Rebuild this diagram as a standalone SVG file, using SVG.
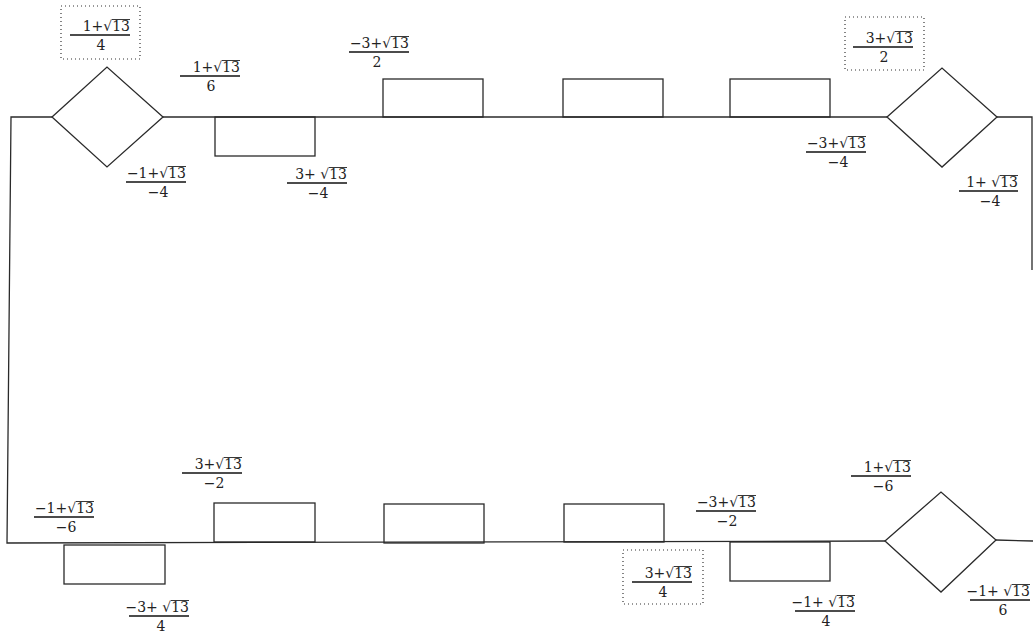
<svg xmlns="http://www.w3.org/2000/svg" width="1033" height="637" viewBox="0 0 1033 637">
<defs>
<style>
.ln{fill:none;stroke:#2a2a2a;stroke-width:1.3}
.nd{fill:none;stroke:#2a2a2a;stroke-width:1.3}
.bar{stroke:#111;stroke-width:1.6}
.ov{stroke:#222;stroke-width:0.9}
.dot{fill:none;stroke:#333;stroke-width:1.2;stroke-dasharray:1 3}
.t{font-family:"DejaVu Serif","Liberation Serif",serif;font-size:14px;fill:#222}
.num{text-anchor:end}
.den{text-anchor:middle}
</style>
</defs>
<rect width="1033" height="637" fill="#fff"/>
<g id="connectors">
<path class="ln" d="M52,117 L11,117 L7,543 L885,541"/>
<path class="ln" d="M163,117 L887,117"/>
<path class="ln" d="M997,117 L1032,117 L1032,270"/>
<path class="ln" d="M996,540 L1033,541"/>
</g>
<g id="d1"><polygon class="nd" points="52,117 107,67 163,117 107,167"/></g>
<g id="d2"><polygon class="nd" points="887,117 942,68 997,117 942,167"/></g>
<g id="d3"><polygon class="nd" points="885,541 941,492 996,540 941,592"/></g>
<g id="r1"><rect class="nd" x="215" y="117" width="100" height="39"/></g>
<g id="r2"><rect class="nd" x="383" y="79" width="100" height="38"/></g>
<g id="r3"><rect class="nd" x="563" y="79" width="100" height="38"/></g>
<g id="r4"><rect class="nd" x="730" y="79" width="100" height="38"/></g>
<g id="r5"><rect class="nd" x="64" y="545" width="101" height="39"/></g>
<g id="r6"><rect class="nd" x="214" y="503" width="101" height="39"/></g>
<g id="r7"><rect class="nd" x="384" y="504" width="100" height="39"/></g>
<g id="r8"><rect class="nd" x="564" y="504" width="100" height="38"/></g>
<g id="r9"><rect class="nd" x="730" y="542" width="100" height="39"/></g>
<g id="lab1"><rect class="dot" x="61" y="6" width="79" height="53"/>
<text class="t num" x="130" y="31">1+√13</text><line class="ov" x1="112" y1="19.5" x2="130" y2="19.5"/><line class="bar" x1="70" y1="35" x2="130" y2="35"/><text class="t den" x="101" y="50">4</text></g>
<g id="lab2"><text class="t num" x="240" y="72">1+√13</text><line class="ov" x1="222" y1="60.5" x2="240" y2="60.5"/><line class="bar" x1="180" y1="76" x2="240" y2="76"/><text class="t den" x="211" y="91">6</text></g>
<g id="lab3"><text class="t num" x="186" y="178">−1+√13</text><line class="ov" x1="168" y1="166.5" x2="186" y2="166.5"/><line class="bar" x1="126" y1="182" x2="186" y2="182"/><text class="t den" x="158" y="197">−4</text></g>
<g id="lab4"><text class="t num" x="347" y="179">3+ √13</text><line class="ov" x1="329" y1="167.5" x2="347" y2="167.5"/><line class="bar" x1="287" y1="183" x2="347" y2="183"/><text class="t den" x="318" y="198">−4</text></g>
<g id="lab5"><text class="t num" x="409" y="48">−3+√13</text><line class="ov" x1="391" y1="36.5" x2="409" y2="36.5"/><line class="bar" x1="349" y1="52" x2="409" y2="52"/><text class="t den" x="377" y="67">2</text></g>
<g id="lab6"><rect class="dot" x="845" y="17" width="79" height="53"/>
<text class="t num" x="913" y="43">3+√13</text><line class="ov" x1="895" y1="31.5" x2="913" y2="31.5"/><line class="bar" x1="853" y1="47" x2="913" y2="47"/><text class="t den" x="884" y="62">2</text></g>
<g id="lab7"><text class="t num" x="866" y="148">−3+√13</text><line class="ov" x1="848" y1="136.5" x2="866" y2="136.5"/><line class="bar" x1="806" y1="152" x2="866" y2="152"/><text class="t den" x="838" y="167">−4</text></g>
<g id="lab8"><text class="t num" x="1018" y="187">1+ √13</text><line class="ov" x1="1000" y1="175.5" x2="1018" y2="175.5"/><line class="bar" x1="959" y1="191" x2="1018" y2="191"/><text class="t den" x="990" y="206">−4</text></g>
<g id="lab9"><text class="t num" x="94" y="513">−1+√13</text><line class="ov" x1="76" y1="501.5" x2="94" y2="501.5"/><line class="bar" x1="34" y1="517" x2="94" y2="517"/><text class="t den" x="66" y="532">−6</text></g>
<g id="lab10"><text class="t num" x="242" y="469">3+√13</text><line class="ov" x1="224" y1="457.5" x2="242" y2="457.5"/><line class="bar" x1="182" y1="473" x2="242" y2="473"/><text class="t den" x="214" y="488">−2</text></g>
<g id="lab11"><text class="t num" x="189" y="612">−3+ √13</text><line class="ov" x1="171" y1="600.5" x2="189" y2="600.5"/><line class="bar" x1="129" y1="616" x2="189" y2="616"/><text class="t den" x="161" y="631">4</text></g>
<g id="lab12"><rect class="dot" x="623" y="550" width="80" height="54"/>
<text class="t num" x="692" y="578">3+√13</text><line class="ov" x1="674" y1="566.5" x2="692" y2="566.5"/><line class="bar" x1="632" y1="582" x2="692" y2="582"/><text class="t den" x="663" y="597">4</text></g>
<g id="lab13"><text class="t num" x="756" y="507">−3+√13</text><line class="ov" x1="738" y1="495.5" x2="756" y2="495.5"/><line class="bar" x1="696" y1="511" x2="756" y2="511"/><text class="t den" x="727" y="526">−2</text></g>
<g id="lab14"><text class="t num" x="911" y="472">1+√13</text><line class="ov" x1="893" y1="460.5" x2="911" y2="460.5"/><line class="bar" x1="851" y1="476" x2="911" y2="476"/><text class="t den" x="883" y="491">−6</text></g>
<g id="lab15"><text class="t num" x="855" y="607">−1+ √13</text><line class="ov" x1="837" y1="595.5" x2="855" y2="595.5"/><line class="bar" x1="795" y1="611" x2="855" y2="611"/><text class="t den" x="826" y="626">4</text></g>
<g id="lab16"><text class="t num" x="1030" y="596">−1+ √13</text><line class="ov" x1="1012" y1="584.5" x2="1030" y2="584.5"/><line class="bar" x1="970" y1="600" x2="1030" y2="600"/><text class="t den" x="1003" y="615">6</text></g>
</svg>
